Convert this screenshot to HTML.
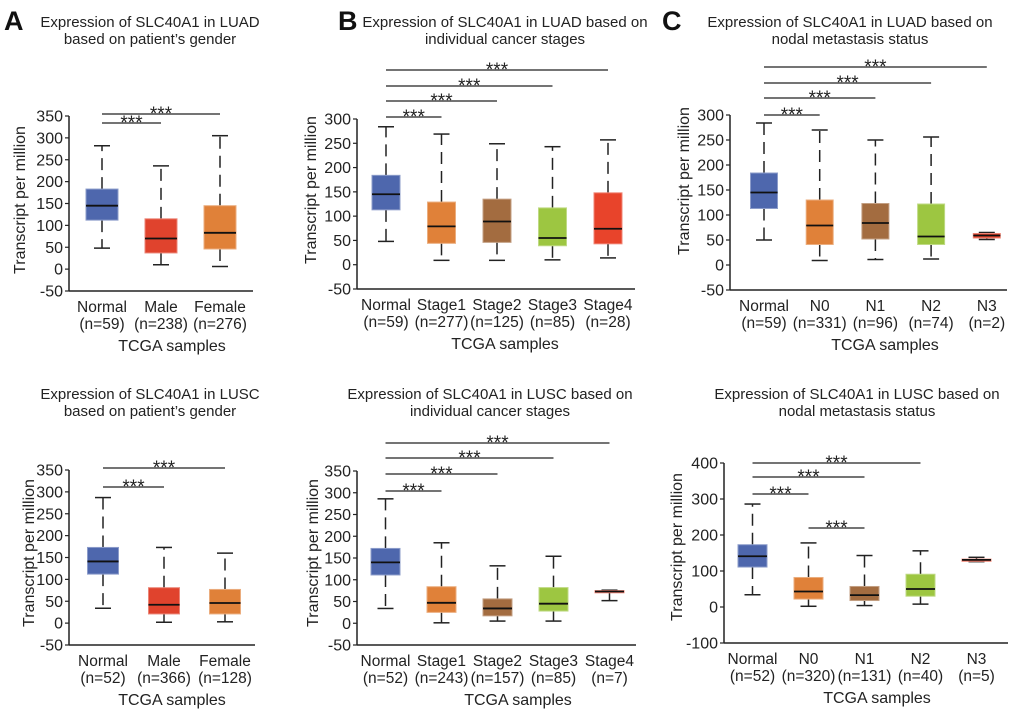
<!DOCTYPE html>
<html><head><meta charset="utf-8">
<style>
html,body{margin:0;padding:0;background:#fff;}
svg{display:block;font-family:"Liberation Sans",Arial,sans-serif;}
</style></head>
<body>
<svg id="fig" width="1020" height="712" viewBox="0 0 1020 712" xmlns="http://www.w3.org/2000/svg">
<text x="4" y="30" font-size="27" font-weight="bold" fill="#111">A</text>
<text x="338" y="30" font-size="27" font-weight="bold" fill="#111">B</text>
<text x="662" y="30" font-size="27" font-weight="bold" fill="#111">C</text>
</svg>
<script>
// ---------- Data ----------
const catsGender = ["Normal","Male","Female"];
const catsStage = ["Normal","Stage1","Stage2","Stage3","Stage4"];
const catsNodal = ["Normal","N0","N1","N2","N3"];

const nA = ["(n=59)","(n=238)","(n=276)"];
const nB = ["(n=59)","(n=277)","(n=125)","(n=85)","(n=28)"];
const nC = ["(n=59)","(n=331)","(n=96)","(n=74)","(n=2)"];
const nD = ["(n=52)","(n=366)","(n=128)"];
const nE = ["(n=52)","(n=243)","(n=157)","(n=85)","(n=7)"];
const nF = ["(n=52)","(n=320)","(n=131)","(n=40)","(n=5)"];

// box stats: [whiskerLow, q1, median, q3, whiskerHigh]
const statsA = [[48,112,145,183,282],[10,37,70,115,236],[6,46,83,145,305]];
const statsB = [[48,113,145,184,284],[9,44,79,129,269],[9,46,89,135,249],[10,39,55,117,243],[14,43,74,148,257]];
const statsC = [[50,113,145,184,284],[9,41,79,130,270],[11,52,84,123,250],[12,41,57,122,256],[51,54,59,63,65]];
const statsD = [[34,112,141,173,287],[2,21,42,81,173],[3,21,46,77,160]];
const statsE = [[34,111,140,172,286],[1,25,47,84,185],[5,17,34,56,132],[5,28,45,82,154],[52,70,73,75,76]];
const statsF = [[34,111,141,173,286],[2,22,43,82,178],[4,18,33,57,143],[8,30,50,91,156],[126,127,131,133,138]];

const ticks350 = [-50,0,50,100,150,200,250,300,350];
const ticks300 = [-50,0,50,100,150,200,250,300];
const ticks400 = [-100,0,100,200,300,400];

const colGender = ["#4e67ad","#e0432d","#e08139"];
const colStage = ["#4e67ad","#e08139","#a36c40","#9dc641","#e8442b"];

// significance comparisons [from, to]
const sigA = [[0,2],[0,1]];
const sigB = [[0,4],[0,3],[0,2],[0,1]];
const sigF = [[0,3],[0,2],[0,1],[1,2]];

// ---------- Layout ----------
const panels = [
 {id:"a",cats:catsGender,ns:nA,stats:statsA,cols:colGender,ticks:ticks350,sig:sigA,sigY:[114,123],
  ax:69,yTop:116,yBot:291,xEnd:253,c0:102,step:59,bw:32,
  title:["Expression of SLC40A1 in LUAD","based on patient\u2019s gender"],tx:150,ty:27,ytx:20,yty:200,tcx:172},
 {id:"b",cats:catsStage,ns:nB,stats:statsB,cols:colStage,ticks:ticks300,sig:sigB,sigY:[70,86,101,117],
  ax:357,yTop:119,yBot:289,xEnd:635,c0:386,step:55.5,bw:28,
  title:["Expression of SLC40A1 in LUAD based on","individual cancer stages"],tx:505,ty:27,ytx:311,yty:190,tcx:505},
 {id:"c",cats:catsNodal,ns:nC,stats:statsC,cols:colStage,ticks:ticks300,sig:sigB,sigY:[67,83,98,115],
  ax:730,yTop:115,yBot:290,xEnd:1007,c0:764,step:55.7,bw:27,
  title:["Expression of SLC40A1 in LUAD based on","nodal metastasis status"],tx:850,ty:27,ytx:684,yty:181,tcx:885},
 {id:"d",cats:catsGender,ns:nD,stats:statsD,cols:colGender,ticks:ticks350,sig:sigA,sigY:[468,487],
  ax:69,yTop:470,yBot:645,xEnd:255,c0:103,step:61,bw:31,
  title:["Expression of SLC40A1 in LUSC","based on patient\u2019s gender"],tx:150,ty:399,ytx:29,yty:553,tcx:172},
 {id:"e",cats:catsStage,ns:nE,stats:statsE,cols:colStage,ticks:ticks350,sig:sigB,sigY:[443,458,474,491],
  ax:357,yTop:471,yBot:645,xEnd:636,c0:385.5,step:56,bw:29,
  title:["Expression of SLC40A1 in LUSC based on","individual cancer stages"],tx:490,ty:399,ytx:313,yty:553,tcx:518},
 {id:"f",cats:catsNodal,ns:nF,stats:statsF,cols:colStage,ticks:ticks400,sig:sigF,sigY:[463,477,494,528],
  ax:724,yTop:463,yBot:643,xEnd:1008,c0:752.5,step:56,bw:29,
  title:["Expression of SLC40A1 in LUSC based on","nodal metastasis status"],tx:857,ty:399,ytx:677,yty:547,tcx:877}
];

const svg = document.getElementById('fig');
const NS = "http://www.w3.org/2000/svg";
function mk(tag, attrs, parent){
  const e = document.createElementNS(NS, tag);
  for (const k in attrs) e.setAttribute(k, attrs[k]);
  (parent||svg).appendChild(e);
  return e;
}
function lighten(hex, f){
  const n = parseInt(hex.slice(1),16);
  let r=(n>>16)&255,g=(n>>8)&255,b=n&255;
  r=Math.round(r+(255-r)*f);g=Math.round(g+(255-g)*f);b=Math.round(b+(255-b)*f);
  return "rgb("+r+","+g+","+b+")";
}

panels.forEach(p => {
  const g = mk('g', {});
  
  
  const vmin = p.ticks[0], vmax = p.ticks[p.ticks.length-1];
  const y = v => p.yBot - (v - vmin) / (vmax - vmin) * (p.yBot - p.yTop);
  const x = i => p.c0 + i * p.step;

  p.title.forEach((t, k) => {
    const tt = mk('text', {x:p.tx, y:p.ty + k*17, 'font-size':15, 'text-anchor':'middle', fill:'#222'}, g);
    tt.textContent = t;
    
    
  });

  const yAxis = mk('line', {x1:p.ax, y1:p.yTop, x2:p.ax, y2:p.yBot, stroke:'#222', 'stroke-width':1.5}, g);
  
  
  const xAxis = mk('line', {x1:p.ax, y1:p.yBot, x2:p.xEnd, y2:p.yBot, stroke:'#222', 'stroke-width':1.5}, g);
  
  

  p.ticks.forEach(v => {
    mk('line', {x1:p.ax-4, y1:y(v), x2:p.ax, y2:y(v), stroke:'#222', 'stroke-width':1.2}, g);
    const t = mk('text', {x:p.ax-6, y:y(v)+5.5, 'font-size':16, 'text-anchor':'end', fill:'#222'}, g);
    t.textContent = v;
    
    
  });

  const yt = mk('text', {x:0, y:0, 'font-size':16, 'text-anchor':'middle', fill:'#222',
    transform:'translate(' + (p.ytx+5) + ',' + p.yty + ') rotate(-90)'}, g);
  yt.textContent = 'Transcript per million';
  
  

  const xt = mk('text', {x:p.tcx, y:p.yBot+60, 'font-size':16, 'text-anchor':'middle', fill:'#222'}, g);
  xt.textContent = 'TCGA samples';
  
  

  p.stats.forEach((s, i) => {
    const cx = x(i), hw = p.bw/2, col = p.cols[i];
    const bg = mk('g', {}, g);
    
    
    mk('line', {x1:cx, y1:y(s[3]), x2:cx, y2:y(s[4]), stroke:'#222', 'stroke-width':1.5, 'stroke-dasharray':'12,7'}, bg);
    mk('line', {x1:cx, y1:y(s[1]), x2:cx, y2:y(s[0]), stroke:'#222', 'stroke-width':1.5, 'stroke-dasharray':'12,7'}, bg);
    mk('line', {x1:cx-8, y1:y(s[4]), x2:cx+8, y2:y(s[4]), stroke:'#222', 'stroke-width':1.5}, bg);
    mk('line', {x1:cx-8, y1:y(s[0]), x2:cx+8, y2:y(s[0]), stroke:'#222', 'stroke-width':1.5}, bg);
    mk('rect', {x:cx-hw, y:y(s[3]), width:p.bw, height:Math.max(1, y(s[1])-y(s[3])), fill:col, stroke:lighten(col,0.35), 'stroke-width':1}, bg);
    mk('line', {x1:cx-hw, y1:y(s[2]), x2:cx+hw, y2:y(s[2]), stroke:'#111', 'stroke-width':1.8}, bg);

    const l1 = mk('text', {x:cx, y:p.yBot+21, 'font-size':15.5, 'text-anchor':'middle', fill:'#222'}, g);
    l1.textContent = p.cats[i];
    
    
    const l2 = mk('text', {x:cx, y:p.yBot+38, 'font-size':15.5, 'text-anchor':'middle', fill:'#222'}, g);
    l2.textContent = p.ns[i];
    
    
  });

  p.sig.forEach((c, k) => {
    const yy = p.sigY[k];
    const x1 = x(c[0]), x2 = x(c[1]);
    const sl = mk('line', {x1:x1, y1:yy, x2:x2, y2:yy, stroke:'#222', 'stroke-width':1.3}, g);
    
    
    const st = mk('text', {x:(x1+x2)/2, y:yy+6, 'font-size':19, 'text-anchor':'middle', fill:'#222'}, g);
    st.textContent = '***';
    
    
  });
});
</script>
</body></html>
